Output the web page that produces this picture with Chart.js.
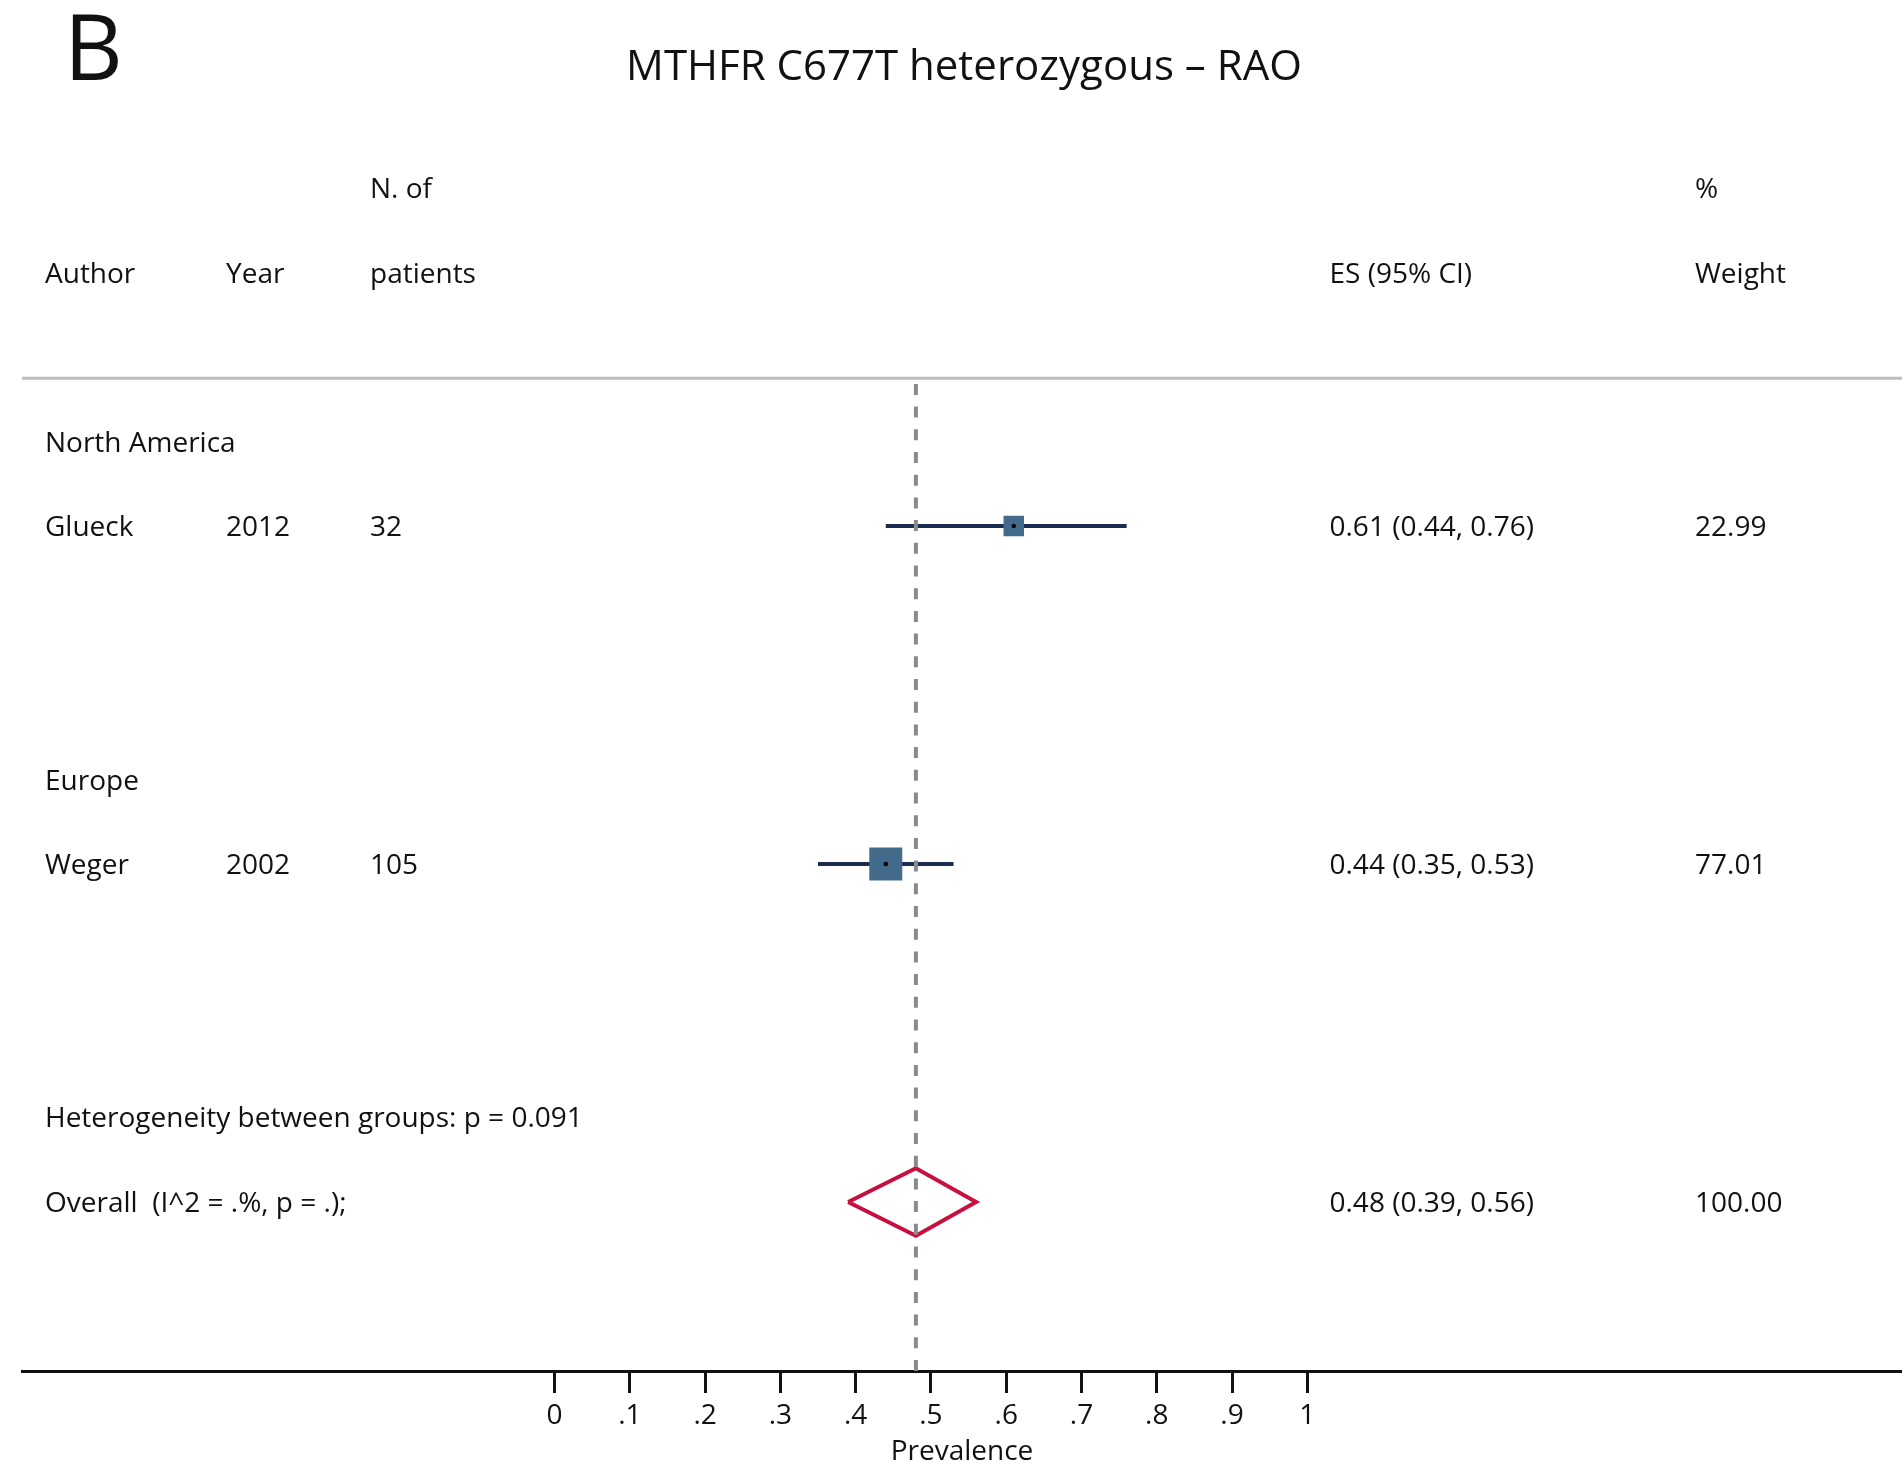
<!DOCTYPE html>
<html>
<head>
<meta charset="utf-8">
<title>MTHFR C677T heterozygous – RAO</title>
<script src="https://cdn.jsdelivr.net/npm/chart.js@4.4.1/dist/chart.umd.min.js"></script>
<style>
  html, body { margin: 0; padding: 0; background: #ffffff; }
  #wrap { width: 1902px; height: 1469px; }
</style>
</head>
<body>
<div id="wrap"><canvas id="forest" width="1902" height="1469"></canvas></div>
<script>
// ---- Forest plot content ----
const panelLetter = 'B';
const chartTitle = 'MTHFR C677T heterozygous \u2013 RAO';
const headerTop = ['N. of', '%'];
const headerMain = ['Author', 'Year', 'patients', 'ES (95% CI)', 'Weight'];

const groupNames = ['North America', 'Europe'];
const authors = ['Glueck', 'Weger'];
const years = ['2012', '2002'];
const patients = [32, 105];
const estimates = [0.61, 0.44];
const lowerCI = [0.44, 0.35];
const upperCI = [0.76, 0.53];
const weights = [22.99, 77.01];

const heterogeneityText = 'Heterogeneity between groups: p = 0.091';
const overallLabel = 'Overall  (I^2 = .%, p = .);';
const overallEstimate = [0.48];
const overallLower = [0.39];
const overallUpper = [0.56];
const overallWeight = [100.00];

const tickValues = [0, 0.1, 0.2, 0.3, 0.4, 0.5, 0.6, 0.7, 0.8, 0.9, 1];
const tickLabels = ['0', '.1', '.2', '.3', '.4', '.5', '.6', '.7', '.8', '.9', '1'];
const axisTitle = 'Prevalence';

// ---- Layout (row slots on the vertical scale, text columns in px) ----
const ROWS = { headTop: 0, head: 1, rule: 2.25, groups: [3, 7], studies: [4, 8], het: 11, overall: 12, bottom: 14 };
const X_RANGE = { min: -0.7075, max: 1.79 };
const COLS = { author: 45, year: 226, n: 370, es: 1329.5, weight: 1695 };
const FONT_FAMILY = "'Open Sans', 'Noto Sans', sans-serif";
const BODY_PX = 28;
const INK = '#111111';
const DIAMOND_HALF = 0.4;

const fmt2 = v => v.toFixed(2);
const esText = (e, l, u) => `${fmt2(e)} (${fmt2(l)}, ${fmt2(u)})`;
// square side grows with the square root of the study weight
const boxRadius = w => (5.44 + 3.14 * Math.sqrt(w)) / Math.SQRT2;

// ---- Datasets ----
const datasets = [];

datasets.push({
  label: 'rule',
  type: 'scatter', showLine: true,
  data: [{ x: X_RANGE.min, y: ROWS.rule }, { x: X_RANGE.max, y: ROWS.rule }],
  borderColor: '#bdbdbd', borderWidth: 3, pointRadius: 0, order: 9
});

estimates.forEach((e, i) => {
  datasets.push({
    label: 'ci ' + authors[i],
    type: 'scatter', showLine: true,
    data: [{ x: lowerCI[i], y: ROWS.studies[i] }, { x: upperCI[i], y: ROWS.studies[i] }],
    borderColor: '#1c2b50', borderWidth: 4, pointRadius: 0, order: 5
  });
});

datasets.push({
  label: 'overall line',
  type: 'scatter', showLine: true,
  data: [{ x: overallEstimate[0], y: ROWS.bottom }, { x: overallEstimate[0], y: ROWS.rule }],
  borderColor: '#8a8a8a', borderWidth: 4, borderDash: [11, 11.7], pointRadius: 0, order: 3
});

datasets.push({
  label: 'boxes',
  type: 'scatter',
  data: estimates.map((e, i) => ({ x: e, y: ROWS.studies[i] })),
  pointStyle: 'rect',
  pointRadius: weights.map(boxRadius),
  backgroundColor: '#416a8b', borderWidth: 0, order: 2
});

datasets.push({
  label: 'centres',
  type: 'scatter',
  data: estimates.map((e, i) => ({ x: e, y: ROWS.studies[i] })),
  pointStyle: 'circle', pointRadius: 2.2,
  backgroundColor: '#000000', borderWidth: 0, order: 1
});

datasets.push({
  label: 'overall diamond',
  type: 'scatter', showLine: true,
  data: [
    { x: overallLower[0], y: ROWS.overall },
    { x: overallEstimate[0], y: ROWS.overall - DIAMOND_HALF },
    { x: overallUpper[0], y: ROWS.overall },
    { x: overallEstimate[0], y: ROWS.overall + DIAMOND_HALF },
    { x: overallLower[0], y: ROWS.overall }
  ],
  borderColor: '#c8103e', borderWidth: 4, borderJoinStyle: 'miter',
  pointRadius: 0, fill: false, order: 4
});

// ---- Table text, title and panel letter ----
const tablePlugin = {
  id: 'forestTable',
  afterDraw(chart) {
    const ctx = chart.ctx;
    const ys = chart.scales.y;
    const body = `${BODY_PX}px ${FONT_FAMILY}`;
    const capShift = BODY_PX * 0.357;
    const put = (txt, x, row) => {
      ctx.font = body;
      ctx.fillText(txt, x, ys.getPixelForValue(row) + capShift);
    };
    ctx.save();
    ctx.fillStyle = INK;
    ctx.textBaseline = 'alphabetic';
    ctx.textAlign = 'left';

    ctx.font = `91px ${FONT_FAMILY}`;
    ctx.fillText(panelLetter, 64, 80);

    ctx.textAlign = 'center';
    ctx.font = `42px ${FONT_FAMILY}`;
    ctx.fillText(chartTitle, 964, 80);
    ctx.textAlign = 'left';

    put(headerTop[0], COLS.n, ROWS.headTop);
    put(headerTop[1], COLS.weight, ROWS.headTop);
    put(headerMain[0], COLS.author, ROWS.head);
    put(headerMain[1], COLS.year, ROWS.head);
    put(headerMain[2], COLS.n, ROWS.head);
    put(headerMain[3], COLS.es, ROWS.head);
    put(headerMain[4], COLS.weight, ROWS.head);

    groupNames.forEach((g, i) => put(g, COLS.author, ROWS.groups[i]));
    authors.forEach((a, i) => {
      const r = ROWS.studies[i];
      put(a, COLS.author, r);
      put(years[i], COLS.year, r);
      put(String(patients[i]), COLS.n, r);
      put(esText(estimates[i], lowerCI[i], upperCI[i]), COLS.es, r);
      put(fmt2(weights[i]), COLS.weight, r);
    });

    put(heterogeneityText, COLS.author, ROWS.het);
    put(overallLabel, COLS.author, ROWS.overall);
    put(esText(overallEstimate[0], overallLower[0], overallUpper[0]), COLS.es, ROWS.overall);
    put(fmt2(overallWeight[0]), COLS.weight, ROWS.overall);
    ctx.restore();
  }
};

new Chart(document.getElementById('forest'), {
  type: 'scatter',
  data: { datasets },
  plugins: [tablePlugin],
  options: {
    responsive: false,
    animation: false,
    devicePixelRatio: 1,
    layout: { autoPadding: false, padding: { left: 22, right: 0, top: 0, bottom: 0 } },
    plugins: {
      legend: { display: false },
      tooltip: { enabled: false },
      title: { display: false }
    },
    scales: {
      x: {
        type: 'linear',
        min: X_RANGE.min,
        max: X_RANGE.max,
        afterBuildTicks: scale => { scale.ticks = tickValues.map(v => ({ value: v })); },
        afterFit: scale => { scale.height = 98; },
        ticks: {
          autoSkip: false, maxRotation: 0, minRotation: 0,
          padding: 6,
          color: INK,
          font: { family: FONT_FAMILY, size: BODY_PX },
          callback: (value, index) => tickLabels[index]
        },
        grid: {
          drawOnChartArea: false, drawTicks: true,
          tickLength: 22, tickWidth: 3, tickColor: INK
        },
        border: { display: true, color: INK, width: 3 },
        title: {
          display: true, text: axisTitle, color: INK,
          font: { family: FONT_FAMILY, size: BODY_PX },
          padding: { top: 0, bottom: 0 }
        }
      },
      y: {
        type: 'linear',
        display: false,
        reverse: true,
        min: -2.225,
        max: ROWS.bottom
      }
    }
  }
});
</script>
</body>
</html>
